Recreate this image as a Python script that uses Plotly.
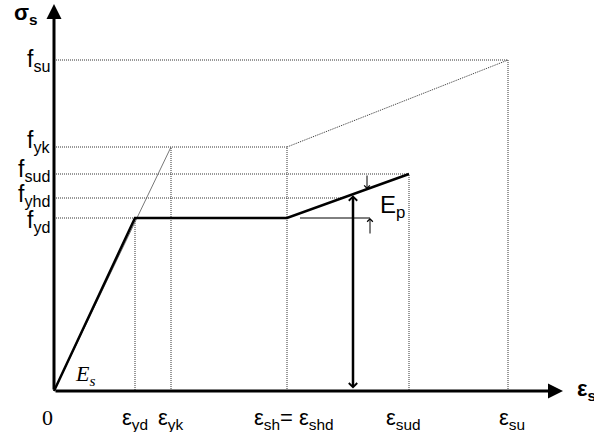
import plotly.graph_objects as go

# Schematic strain values (arbitrary units)
eps_yd, eps_yk, eps_sh, eps_sud, eps_su = 81, 117, 233, 355, 454
# Schematic stress values (arbitrary units)
f_yd, f_yhd, f_sud, f_yk, f_su = 173, 193, 217, 244, 331

x_tick_pos = [-7, eps_yd, eps_yk, eps_sh + 7, eps_sud - 6, eps_su + 4]
x_tick_lab = ["0", "ε<sub>yd</sub>", "ε<sub>yk</sub>", "ε<sub>sh</sub>= ε<sub>shd</sub>",
              "ε<sub>sud</sub>", "ε<sub>su</sub>"]
y_tick_pos = [f_su, f_yk, f_sud, f_yhd, f_yd]
y_tick_lab = ["f<sub>su</sub>", "f<sub>yk</sub>", "f<sub>sud</sub>", "f<sub>yhd</sub>", "f<sub>yd</sub>"]
y_label_shift = [0, 6, 4, 3, -3]

x_end, y_end = 509, 387   # axis arrow tips
x_arrow = 299              # position of the double arrow

def hard(x):
    return f_yd + (x - eps_sh) / (eps_sud - eps_sh) * (f_sud - f_yd)

fig = go.Figure()

dot = dict(color="#333333", width=1, dash="1px,1px")

def seg(xs, ys, line):
    fig.add_trace(go.Scatter(x=xs, y=ys, mode="lines", line=line,
                             hoverinfo="skip", showlegend=False))

# dotted guide lines
x_yhd = eps_sh + (f_yhd - f_yd) / (f_sud - f_yd) * (eps_sud - eps_sh)
seg([0, eps_su, eps_su], [f_su, f_su, 0], dot)
seg([0, eps_sh, eps_sh], [f_yk, f_yk, 0], dot)
seg([eps_sh, eps_su], [f_yk, f_su], dot)
seg([0, eps_sud, eps_sud], [f_sud, f_sud, 0], dot)
seg([0, x_yhd], [f_yhd, f_yhd], dot)
seg([0, eps_yd, eps_yd], [f_yd, f_yd, 0], dot)
seg([eps_yk, eps_yk], [0, f_yk], dot)
seg([0, eps_yk], [0, f_yk], dict(color="#555555", width=0.8))

# design curve
seg([0, eps_yd, eps_sh, eps_sud], [0, f_yd, f_yd, f_sud], dict(color="black", width=2.5))

# small reference line at f_yd
seg([eps_sh + 13, eps_sh + 83], [f_yd, f_yd], dict(color="black", width=1))

ann = []
# axes with arrows
ann.append(dict(x=x_end, y=0, ax=0, ay=0, axref="x", ayref="y", xref="x", yref="y",
                text="", showarrow=True, arrowhead=2, arrowwidth=3, arrowsize=1,
                arrowcolor="black", standoff=0, startstandoff=0))
ann.append(dict(x=0, y=y_end, ax=0, ay=0, axref="x", ayref="y", xref="x", yref="y",
                text="", showarrow=True, arrowhead=2, arrowwidth=3, arrowsize=1,
                arrowcolor="black", standoff=0, startstandoff=0))
# double arrow
ann.append(dict(x=x_arrow, y=hard(x_arrow), ax=x_arrow, ay=0, axref="x", ayref="y",
                xref="x", yref="y", text="", showarrow=True, arrowhead=4, startarrowhead=4,
                arrowside="end+start", arrowwidth=2.5, arrowsize=0.65, startarrowsize=0.65,
                arrowcolor="black", standoff=1, startstandoff=1))
# small arrows for E_p
xd = eps_sh + 80
ann.append(dict(x=xd, y=hard(xd), ax=xd, ay=f_sud, axref="x", ayref="y", xref="x", yref="y",
                text="", showarrow=True, arrowhead=4, arrowwidth=1, arrowsize=1.1,
                arrowcolor="black", standoff=0))
xu = eps_sh + 83
ann.append(dict(x=xu, y=f_yd, ax=xu, ay=f_yd - 17, axref="x", ayref="y", xref="x", yref="y",
                text="", showarrow=True, arrowhead=4, arrowwidth=1, arrowsize=1.1,
                arrowcolor="black", standoff=0))

sans = "Liberation Sans, Arial, sans-serif"
serif = "Liberation Serif, Times New Roman, serif"

for yp, lab, dy in zip(y_tick_pos, y_tick_lab, y_label_shift):
    ann.append(dict(x=-2, y=yp + dy, xref="x", yref="y", text=lab, showarrow=False,
                    xanchor="right", yanchor="middle", font=dict(family=sans, size=23, color="black")))
for xp, lab in zip(x_tick_pos, x_tick_lab):
    fam = serif if lab == "0" else sans
    size = 22
    ann.append(dict(x=xp, y=-12, xref="x", yref="y", text=lab, showarrow=False,
                    xanchor="center", yanchor="top", font=dict(family=fam, size=size, color="black")))

ann.append(dict(x=-42, y=377, xref="x", yref="y", text="<b>σ<sub>s</sub></b>", showarrow=False,
                xanchor="left", yanchor="middle", font=dict(family=sans, size=22, color="black")))
ann.append(dict(x=521, y=1, xref="x", yref="y", text="<b>ε<sub>s</sub></b>", showarrow=False,
                xanchor="left", yanchor="middle", font=dict(family=sans, size=22, color="black")))
ann.append(dict(x=19, y=16, xref="x", yref="y", text="<i>E<sub>s</sub></i>", showarrow=False,
                xanchor="left", yanchor="middle", font=dict(family=serif, size=22, color="black")))
ann.append(dict(x=324, y=185, xref="x", yref="y", text="E<sub>p</sub>", showarrow=False,
                xanchor="left", yanchor="middle", font=dict(family=sans, size=24, color="black")))

fig.update_layout(
    width=594, height=432, autosize=False,
    margin=dict(l=0, r=0, t=0, b=0),
    paper_bgcolor="white", plot_bgcolor="white",
    xaxis=dict(range=[-54, 540], visible=False, fixedrange=True),
    yaxis=dict(range=[-41, 391], visible=False, fixedrange=True),
    annotations=ann,
    showlegend=False,
)

fig.write_html("out.html", config={"displayModeBar": False},
               post_script="document.body.style.margin='0';document.body.style.overflow='hidden';")
